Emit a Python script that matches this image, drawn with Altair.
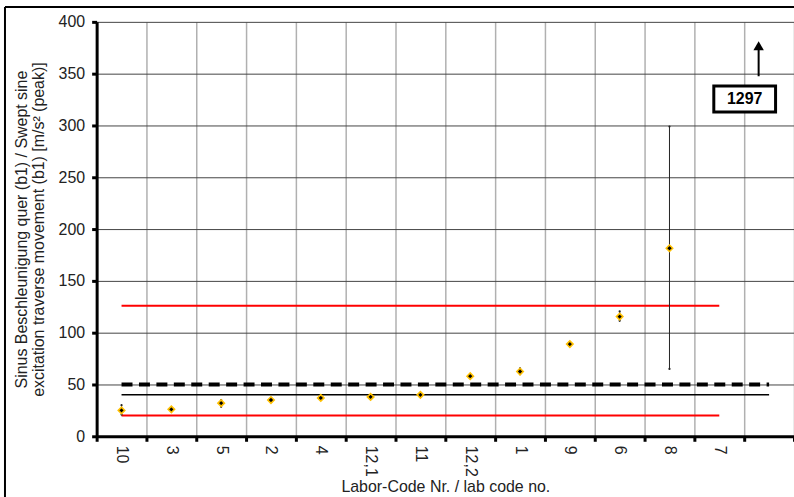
import altair as alt
import pandas as pd

# ---- data ----
labs = ["10", "3", "5", "2", "4", "12,1", "11", "12,2", "1", "9", "6", "8", "7"]
values = [25, 26, 32, 35, 37, 38, 40, 58, 62.5, 89, 115.5, 181.5, 1297]
err_lo = [21, 26, 28.5, 35, 37, 38, 40, 58, 60, 89, 111.5, 65, 1297]
err_hi = [30, 26, 35, 35, 37, 38, 40, 58, 65.5, 89, 120.5, 299, 1297]
n_slots = 14
y_ticks = list(range(0, 401, 50))

ref_dashed = [50]
ref_mean = [40]
red_limits = [20, 126]

offscale_text = ["1297"]
box_x = [12.39, 13.63]
box_y = [313, 338]
arrow_x = [13.29]
arrow_y = [347.5, 377]

FONT = "Liberation Sans"

# ---- tables ----
pos = [i + 0.5 for i in range(len(labs))]
df = pd.DataFrame({"lab": labs, "pos": pos, "value": values, "lo": err_lo, "hi": err_hi})
df_pts = df[df["value"] <= 400]
df_err = df_pts[df_pts["hi"] > df_pts["lo"]]
df_caps = pd.concat([
    pd.DataFrame({"pos": df_err["pos"], "v": df_err["lo"]}),
    pd.DataFrame({"pos": df_err["pos"], "v": df_err["hi"]}),
])

first_c, last_c, last_slot = pos[0], pos[-1], n_slots - 0.5
df_red = pd.DataFrame({"start": first_c, "end": last_c, "v": red_limits})
df_dash = pd.DataFrame({"start": first_c, "end": last_slot, "v": ref_dashed})
df_mean = pd.DataFrame({"start": first_c, "end": last_slot, "v": ref_mean})
df_box = pd.DataFrame({"x": [box_x[0]], "x2": [box_x[1]], "y": [box_y[0]], "y2": [box_y[1]],
                       "tx": [sum(box_x) / 2], "ty": [sum(box_y) / 2], "t": offscale_text})
df_arrow = pd.DataFrame({"x": arrow_x, "y": [arrow_y[0]], "y2": [arrow_y[1]]})
df_head = pd.DataFrame({"x": arrow_x, "y": [arrow_y[1]]})

# ---- axes ----
half_vals = [i + 0.5 for i in range(len(labs))]
int_vals = list(range(0, n_slots + 1))
x_values = sorted(int_vals + half_vals)
lab_list = "[" + ",".join("'" + l + "'" for l in labs) + "]"
is_int = "datum.value % 1 === 0"

x_axis = alt.Axis(
    values=x_values,
    labelExpr=f"{is_int} ? '' : {lab_list}[floor(datum.value)]",
    labelAngle=90, labelAlign="left", labelBaseline="middle",
    labelFont=FONT, labelFontSize=16, labelColor="#222", labelPadding=4,
    tickSize=5, tickWidth=3, tickColor="black",
    tickOpacity={"condition": {"test": is_int, "value": 1}, "value": 0},
    grid=True, gridColor="#b0b0b0", gridWidth=1.5,
    gridOpacity={"condition": {"test": is_int, "value": 1}, "value": 0},
    domainColor="black", domainWidth=3,
    title="Labor-Code Nr. / lab code no.", titleFont=FONT, titleFontSize=16,
    titleFontWeight="normal", titleColor="#222", titlePadding=2,
)
y_axis = alt.Axis(
    values=y_ticks, labelFont=FONT, labelFontSize=16, labelColor="#222", labelPadding=7,
    tickSize=5, tickWidth=3, tickColor="black",
    grid=True, gridColor="#444", gridWidth=1,
    domainColor="black", domainWidth=3,
    title=["Sinus Beschleunigung quer (b1) / Swept sine",
           "excitation traverse movement (b1) [m/s² (peak)]"],
    titleFont=FONT, titleFontSize=16, titleFontWeight="normal", titleColor="#222",
    titleLineHeight=17, titlePadding=12,
)
x_scale = alt.Scale(domain=[0, n_slots], nice=False, zero=False)
y_scale = alt.Scale(domain=[0, 400], nice=False)


def X(f):
    return alt.X(f, type="quantitative", scale=x_scale, axis=x_axis)


def Y(f):
    return alt.Y(f, type="quantitative", scale=y_scale, axis=y_axis)


red = alt.Chart(df_red).mark_rule(color="#ff0000", strokeWidth=2).encode(
    x=X("start"), x2="end", y=Y("v"))
dash = alt.Chart(df_dash).mark_rule(color="black", strokeWidth=4, strokeDash=[11, 6.5]).encode(
    x=X("start"), x2="end", y=Y("v"))
mean = alt.Chart(df_mean).mark_rule(color="black", strokeWidth=1.5).encode(
    x=X("start"), x2="end", y=Y("v"))
err = alt.Chart(df_err).mark_rule(color="#222", strokeWidth=1).encode(
    x=X("pos"), y=Y("lo"), y2="hi")
caps = alt.Chart(df_caps).mark_point(shape="circle", filled=True, color="#222", size=5, opacity=1).encode(
    x=X("pos"), y=Y("v"))
pts = alt.Chart(df_pts).mark_point(shape="diamond", filled=True, fill="black", stroke="#FFC000",
                                   strokeWidth=1.6, size=42, opacity=1).encode(
    x=X("pos"), y=Y("value"))
box = alt.Chart(df_box).mark_rect(fill="white", stroke="black", strokeWidth=3).encode(
    x=X("x"), x2="x2", y=Y("y"), y2="y2")
box_text = alt.Chart(df_box).mark_text(font=FONT, fontSize=16, fontWeight="bold", color="black").encode(
    x=X("tx"), y=Y("ty"), text="t:N")
arrow = alt.Chart(df_arrow).mark_rule(color="black", strokeWidth=2).encode(
    x=X("x"), y=Y("y"), y2="y2")
head = alt.Chart(df_head).mark_point(shape="triangle-up", filled=True, color="black", size=110, opacity=1).encode(
    x=X("x"), y=Y("y"))

frame_df = pd.DataFrame({"k": [0]})
frame_left = alt.Chart(frame_df).mark_rule(color="black", strokeWidth=2).encode(
    x=alt.value(-92), y=alt.value(-15), y2=alt.value(480))
frame_top = alt.Chart(frame_df).mark_rule(color="black", strokeWidth=2).encode(
    x=alt.value(-92), x2=alt.value(710), y=alt.value(-15))

chart = alt.layer(
    red, dash, mean, err, caps, pts, box, box_text, arrow, head, frame_left, frame_top
).properties(
    width=700, height=416,
    autosize=alt.AutoSizeParams(type="none"),
    padding={"left": 97, "top": 21, "right": 0, "bottom": 60},
    background="white",
).configure_view(strokeOpacity=0)

chart.save("out.html", embed_options={"renderer": "svg", "actions": False})
